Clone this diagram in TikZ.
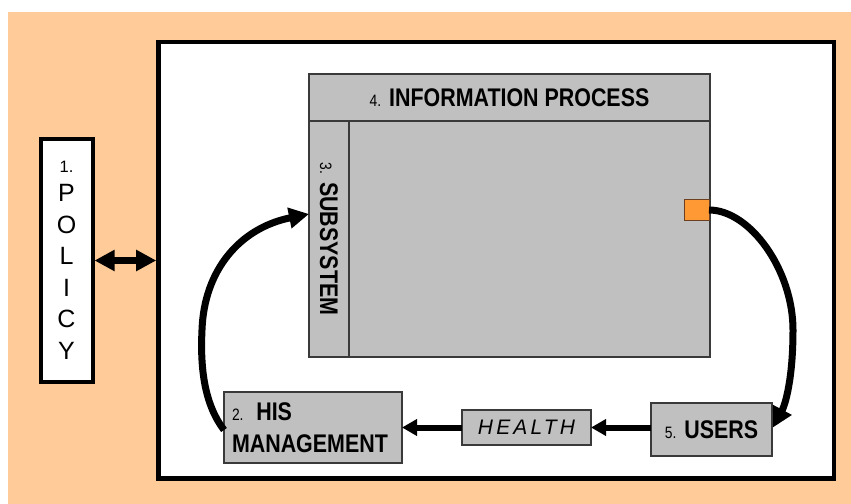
\documentclass[tikz,border=0pt]{standalone}
\usepackage{fontspec}
\setmainfont{Liberation Sans}
\newfontfamily\narrowsans[FakeStretch=0.84]{Liberation Sans Bold}
\newfontfamily\narrowlight[FakeStretch=0.84]{Liberation Sans}
\newfontfamily\spacedsans[LetterSpace=15]{Liberation Sans}
\usetikzlibrary{arrows.meta,calc}

\definecolor{peach}{HTML}{FFCC99}
\definecolor{boxgray}{HTML}{C0C0C0}
\definecolor{edgegray}{HTML}{3A3A3A}
\definecolor{portorange}{HTML}{FF9933}
\definecolor{portedge}{HTML}{6B4020}

% small numbering in front of the labels
\newcommand\numsmall[1]{{\narrowlight\fontsize{16.5bp}{16.5bp}\selectfont #1}}

\begin{document}
\begin{tikzpicture}[x=1bp, y=-1bp,
  graybox/.style={draw=edgegray, fill=boxgray, line width=1.3bp,
    inner sep=0pt, outer sep=0pt},
  bigtext/.style={font=\narrowsans\fontsize{25.5bp}{32bp}\selectfont},
  flow/.style={line width=6bp, -{Triangle[length=15bp,width=16bp]}},
  loopflow/.style={line width=7bp, -{Triangle[length=20bp,width=20bp]}},
  biarrow/.style={line width=7bp,
    {Triangle[length=20bp,width=20bp]}-{Triangle[length=20bp,width=20bp]}}]

  % page and background
  \useasboundingbox (0,0) rectangle (851,504);
  \fill[white] (0,0) rectangle (851,504);
  \fill[peach] (8,12) rectangle (851,504);

  % outer system frame
  \node[draw, line width=4.5bp, fill=white, inner sep=0pt,
    minimum width=675.5bp, minimum height=436.5bp] (frame) at (496.25,260.25) {};

  % policy column
  \node[draw, line width=4bp, fill=white, inner sep=0pt,
    minimum width=52bp, minimum height=243bp, align=center,
    font=\fontsize{25bp}{31.5bp}\selectfont] (policy) at (66.5,260.5)
    {{\fontsize{16.5bp}{16.5bp}\selectfont 1.}\\[-2.5bp]P\\O\\L\\I\\C\\Y};

  \draw[biarrow] (policy.east) -- (policy.east -| frame.west);

  % information process block
  \node[graybox, minimum width=401bp, minimum height=283bp] (info) at (509.5,215.5) {};
  \node[graybox, bigtext, minimum width=401bp, minimum height=47bp] (head) at (509.5,97.5)
    {\numsmall{4.} INFORMATION PROCESS};
  \node[graybox, bigtext, rotate=-90, minimum width=236bp, minimum height=40bp]
    (subsys) at (329,239) {\numsmall{3.} SUBSYSTEM};
  \node[draw=portedge, fill=portorange, line width=1bp, inner sep=0pt, outer sep=0pt,
    minimum width=25bp, minimum height=21bp] (port) at (696.5,210) {};

  % bottom row
  \node[graybox, bigtext, minimum width=178bp, minimum height=71bp,
    text width=162bp, align=left] (his) at (313,427.5)
    {\numsmall{2.} HIS\\MANAGEMENT};
  \node[graybox, minimum width=129bp, minimum height=35bp,
    font=\spacedsans\itshape\fontsize{21bp}{24bp}\selectfont] (health) at (526.5,427.5) {HEALTH};
  \node[graybox, bigtext, minimum width=121bp, minimum height=53bp] (users) at (711.5,429.5)
    {\numsmall{5.} USERS};

  % flows
  \draw[flow] (health.east -| users.west) -- (health.east);
  \draw[flow] (health.west) -- (health.west -| his.east);
  \draw[loopflow] ($(his.west)+(0,2.5)$) .. controls (205,405) and (200,370) .. (202,330)
    .. controls (204,270) and (240,228) .. ($(subsys.south)+(0,-25)$);
  \draw[loopflow] (port.east) .. controls (750,210) and (793,270) .. (793,330)
    .. controls (793,380) and (785,405) .. ($(users.east)+(1,-2)$);
\end{tikzpicture}
\end{document}
